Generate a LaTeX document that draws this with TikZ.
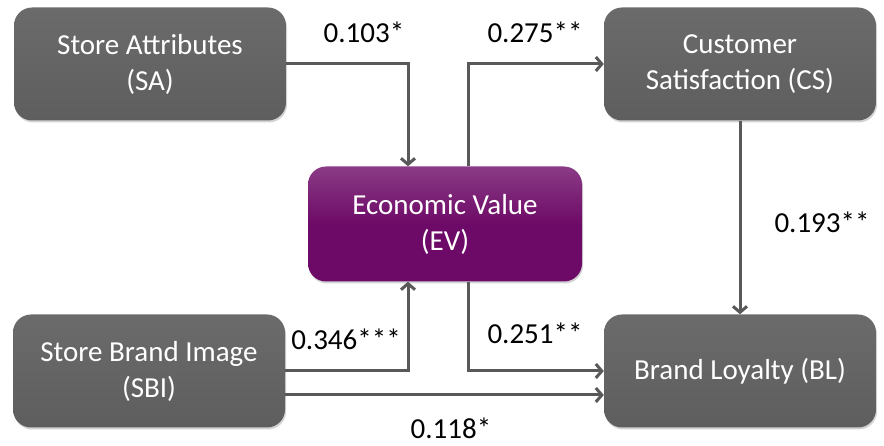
\documentclass[tikz,border=0pt]{standalone}
\usepackage{fontspec}
\setmainfont{Carlito}
\usetikzlibrary{arrows.meta, positioning, shadows}

\definecolor{boxgray}{HTML}{5E5E5E}
\definecolor{evpurple}{HTML}{6D0A67}
\definecolor{linegray}{HTML}{595959}

\begin{document}
\begin{tikzpicture}[x=1pt, y=1pt,
    box/.style={rounded corners=18pt, minimum width=272pt, minimum height=113pt,
        top color=boxgray!92!white, bottom color=boxgray, text=white, align=center,
        font=\fontsize{29}{36}\selectfont,
        drop shadow={shadow xshift=1pt, shadow yshift=-2pt, opacity=0.35}},
    evbox/.style={box, top color=evpurple!80!white, bottom color=evpurple, middle color=evpurple},
    conn/.style={draw=linegray, line width=3pt, -{Straight Barb[length=6pt, width=14pt]}},
    coef/.style={font=\fontsize{29}{35}\selectfont, text=black, anchor=base, inner sep=0pt}]
    \useasboundingbox (0, 0) rectangle (884, 446);

    % caixas
    \node[box] (SA) at (150, 382) {Store Attributes\\(SA)};
    \node[box] (CS) at (740, 382) {Customer\\Satisfaction (CS)};
    \node[evbox, minimum width=274pt, minimum height=115pt] (EV) at (445, 222) {Economic Value\\(EV)};
    \node[box] (SBI) at (149, 75) {Store Brand Image\\(SBI)};
    \node[box] (BL) at (740, 75) {Brand Loyalty (BL)};

    % ligacoes
    \draw[conn] (SA.east) -| ([xshift=-37pt]EV.north);
    \draw[conn] ([xshift=23pt]EV.north) |- (CS.west);
    \draw[conn] (CS.south) -- (BL.north);
    \draw[conn] (SBI.east) -| ([xshift=-37pt]EV.south);
    \draw[conn] ([xshift=23pt]EV.south) |- (BL.west);
    \draw[conn] ([yshift=-24pt]SBI.east) -- ([yshift=-24pt]BL.west);

    % coeficientes
    \node[coef] (c1) at (364, 403) {0.103*};
    \node[coef] (c2) at (535, 403) {0.275**};
    \node[coef] (c3) at (822, 213) {0.193**};
    \node[coef] (c4) at (346, 96) {0.346***};
    \node[coef] (c5) at (535, 102) {0.251**};
    \node[coef] (c6) at (451, 7) {0.118*};

\end{tikzpicture}
\end{document}
